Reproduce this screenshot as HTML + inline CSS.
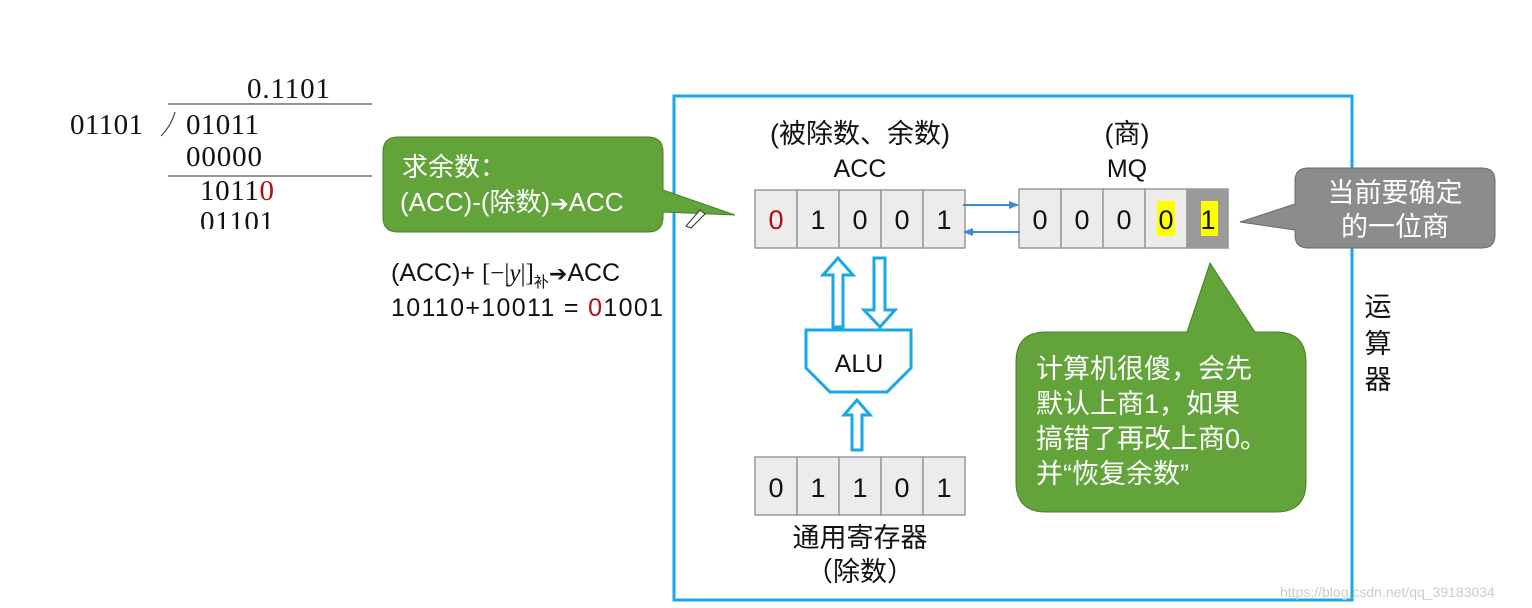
<!DOCTYPE html>
<html><head><meta charset="utf-8"><style>
body{margin:0;background:#fff;}
svg{display:block;}
.s{font-family:"Liberation Serif","Noto Serif CJK SC",serif;font-size:29px;fill:#111;}
.a{font-family:"Liberation Sans","Noto Sans CJK SC",sans-serif;fill:#111;}
.r{font-family:"DejaVu Sans",sans-serif;font-weight:bold;}
</style></head><body>
<svg width="1532" height="608" viewBox="0 0 1532 608" xmlns="http://www.w3.org/2000/svg">
<defs>
<marker id="ar" markerWidth="10" markerHeight="8" refX="9" refY="4" orient="auto" markerUnits="userSpaceOnUse"><path d="M0,0 L10,4 L0,8 Z" fill="#3a8ad4"/></marker>
</defs>
<!-- division -->
<text class="s" x="247" y="98" textLength="83">0.1101</text>
<line x1="168" y1="104" x2="372" y2="104" stroke="#555" stroke-width="1.2"/>
<text class="s" x="70" y="134" textLength="73">01101</text>
<path d="M175,112 Q171,126 161,136" stroke="#444" fill="none" stroke-width="1.2"/>
<text class="s" x="186" y="134" textLength="73">01011</text>
<text class="s" x="186" y="166" textLength="76">00000</text>
<line x1="168" y1="176" x2="372" y2="176" stroke="#555" stroke-width="1.2"/>
<text class="s" x="200" y="200" textLength="74">1011<tspan fill="#b01010">0</tspan></text>
<svg x="0" y="0" width="400" height="229"><text class="s" x="200" y="231" textLength="74">01101</text></svg>
<!-- formulas -->
<text class="a" x="391" y="281" font-size="25">(ACC)+ <tspan font-family="Liberation Serif">[−|<tspan font-style="italic">y</tspan>|]</tspan><tspan font-size="15" dy="6">补</tspan><tspan class="r" dy="-6" font-size="22">➔</tspan><tspan>ACC</tspan></text>
<text class="a" x="391" y="316" font-size="25" textLength="272">10110+10011 = <tspan fill="#b01010">0</tspan>1001</text>
<!-- frame -->
<rect x="674" y="96" width="678" height="504" fill="none" stroke="#1aa7e6" stroke-width="3"/>
<!-- callout 1 -->
<path d="M398,137 H648 Q663,137 663,152 V190 L735,215 L663,212 V217 Q663,232 648,232 H398 Q383,232 383,217 V152 Q383,137 398,137 Z" fill="#62a33a" stroke="#4a7e2a" stroke-width="1"/>
<text class="a" x="402" y="176" font-size="26" style="fill:#fff">求余数：</text>
<text class="a" x="400" y="211" font-size="26" style="fill:#fff">(ACC)-(除数)<tspan class="r" font-size="22">➔</tspan>ACC</text>
<path d="M686,226 L700,210 L705,214 L691,228 Z" fill="#fff" stroke="#333" stroke-width="1"/>
<!-- labels -->
<text class="a" x="860" y="143" font-size="27" text-anchor="middle">(被除数、余数)</text>
<text class="a" x="860" y="177" font-size="25" text-anchor="middle">ACC</text>
<text class="a" x="1127" y="143" font-size="27" text-anchor="middle">(商)</text>
<text class="a" x="1127" y="177" font-size="25" text-anchor="middle">MQ</text>
<!-- cells -->
<g stroke="#999" stroke-width="1.5" fill="#ececec">
<rect x="755" y="190" width="42" height="58"/><rect x="797" y="190" width="42" height="58"/><rect x="839" y="190" width="42" height="58"/><rect x="881" y="190" width="42" height="58"/><rect x="923" y="190" width="42" height="58"/>
<rect x="1019" y="189" width="42" height="59"/><rect x="1061" y="189" width="42" height="59"/><rect x="1103" y="189" width="42" height="59"/><rect x="1145" y="189" width="42" height="59"/><rect x="1187" y="189" width="41" height="59" fill="#9b9b9b"/>
<rect x="755" y="457" width="42" height="58"/><rect x="797" y="457" width="42" height="58"/><rect x="839" y="457" width="42" height="58"/><rect x="881" y="457" width="42" height="58"/><rect x="923" y="457" width="42" height="58"/>
</g>
<rect x="1157" y="201" width="18" height="35" fill="#ffff00"/>
<rect x="1201" y="201" width="17" height="35" fill="#ffff00"/>
<g class="a" font-size="27" text-anchor="middle">
<text x="776" y="229" style="fill:#b01010">0</text><text x="818" y="229">1</text><text x="860" y="229">0</text><text x="902" y="229">0</text><text x="944" y="229">1</text>
<text x="1040" y="229">0</text><text x="1082" y="229">0</text><text x="1124" y="229">0</text><text x="1166" y="229">0</text><text x="1208" y="229">1</text>
<text x="776" y="497">0</text><text x="818" y="497">1</text><text x="860" y="497">1</text><text x="902" y="497">0</text><text x="944" y="497">1</text>
</g>
<line x1="963" y1="205" x2="1018" y2="205" stroke="#3a8ad4" stroke-width="2" marker-end="url(#ar)"/>
<line x1="1020" y1="232" x2="964" y2="232" stroke="#3a8ad4" stroke-width="2" marker-end="url(#ar)"/>
<!-- hollow arrows -->
<g fill="#fff" stroke="#1aa7e6" stroke-width="3">
<path d="M833,327 V275 H823 L838,258 L853,275 H843 V327 Z"/>
<path d="M874,258 V310 H864 L880,327 L895,310 H885 V258 Z"/>
<path d="M852,450 V415 H844 L857,400 L870,415 H862 V450 Z"/>
<path d="M806,330 H911 V368 L887,392 H830 L806,368 Z"/>
</g>
<text class="a" x="859" y="372" font-size="25" text-anchor="middle">ALU</text>
<text class="a" x="860" y="547" font-size="27" text-anchor="middle">通用寄存器</text>
<text class="a" x="860" y="581" font-size="27" text-anchor="middle">（除数）</text>
<!-- gray callout -->
<path d="M1308,168 H1482 Q1495,168 1495,181 V235 Q1495,248 1482,248 H1308 Q1295,248 1295,235 V230 L1240,222 L1295,204 V181 Q1295,168 1308,168 Z" fill="#8c8c8c" stroke="#6a6a6a"/>
<text class="a" x="1395" y="202" font-size="27" text-anchor="middle" style="fill:#fff">当前要确定</text>
<text class="a" x="1395" y="236" font-size="27" text-anchor="middle" style="fill:#fff">的一位商</text>
<!-- green callout 2 -->
<path d="M1046,332 H1187 L1210,263 L1255,332 H1276 Q1306,332 1306,362 V482 Q1306,512 1276,512 H1046 Q1016,512 1016,482 V362 Q1016,332 1046,332 Z" fill="#62a33a" stroke="#4a7e2a"/>
<g class="a" font-size="27">
<text x="1036" y="378" style="fill:#fff">计算机很傻，会先</text>
<text x="1036" y="413" style="fill:#fff">默认上商1，如果</text>
<text x="1036" y="448" style="fill:#fff">搞错了再改上商0。</text>
<text x="1036" y="483" style="fill:#fff">并“恢复余数”</text>
</g>
<g class="a" font-size="27" text-anchor="middle">
<text x="1378" y="316">运</text><text x="1378" y="353">算</text><text x="1378" y="389">器</text>
</g>
<text x="1280" y="597" font-family="Liberation Sans,sans-serif" font-size="14" fill="#ccc">https://blog.csdn.net/qq_39183034</text>
</svg>
</body></html>
